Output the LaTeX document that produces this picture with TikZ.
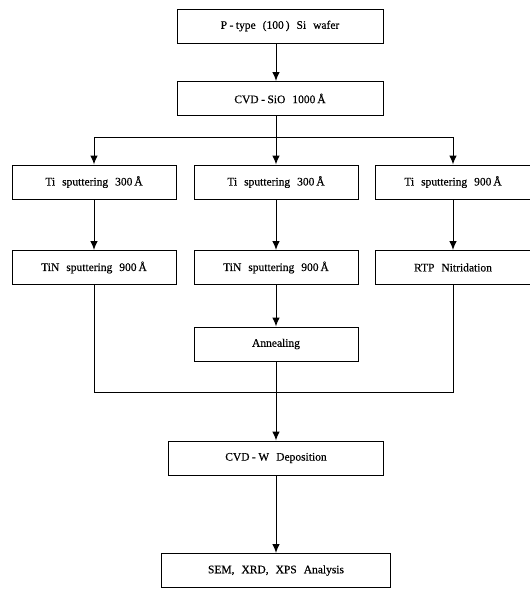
\documentclass[tikz,border=0pt]{standalone}
\usepackage{fontspec}
\setmainfont{Liberation Serif}[FakeBold=0.4]
\usepackage{tikz}
\usetikzlibrary{arrows.meta}
\usetikzlibrary{positioning}
\newcommand{\stagefont}{\fontsize{11.5}{13}\selectfont\spaceskip=7pt\relax}
\newcommand{\dash}{\kern2.5pt-\kern2.5pt}

\begin{document}
\begin{tikzpicture}[x=1pt, y=-1pt, line width=1pt,
    stage/.style={draw, minimum height=34pt, inner sep=0pt, font=\stagefont},
    arr/.style={-{Latex[length=9pt, width=7.5pt]}}]
    \useasboundingbox (0,0) rectangle (530,590);
    \node[stage, minimum width=206pt] (wafer) at (280,26) {P\dash type (100\,) Si wafer};
    \node[stage, minimum width=206pt] (sio) at (280,98.5) {CVD\dash SiO 1000\,Å};
    \node[stage, minimum width=164pt] (ti1) at (94,182) {Ti sputtering 300\,Å};
    \node[stage, minimum width=164pt] (ti2) at (276,182) {Ti sputtering 300\,Å};
    \node[stage, minimum width=156pt] (ti3) at (453,182) {Ti sputtering 900\,Å};
    \node[stage, minimum width=164pt] (tin1) at (94,267.5) {TiN sputtering 900\,Å};
    \node[stage, minimum width=164pt] (tin2) at (276,267.5) {TiN sputtering 900\,Å};
    \node[stage, minimum width=156pt] (rtp) at (453,267.5) {RTP Nitridation};
    \node[stage, minimum width=164pt] (anneal) at (276,344) {Annealing};
    \node[stage, minimum width=215pt] (cvdw) at (276,458) {CVD\dash W Deposition};
    \node[stage, minimum width=229pt] (sem) at (276,570.5) {SEM, XRD, XPS Analysis};
    \coordinate (split) at (276,137);
    \coordinate (join) at (276,392);
    \draw[arr] (wafer.south -| split) -- (sio.north -| split);
    \draw (sio.south -| split) -- (split);
    \draw[arr] (split) -| (ti1);
    \draw[arr] (split) -- (ti2);
    \draw[arr] (split) -| (ti3);
    \draw[arr] (ti1) -- (tin1);
    \draw[arr] (ti2) -- (tin2);
    \draw[arr] (ti3) -- (rtp);
    \draw[arr] (tin2) -- (anneal);
    \draw (tin1) |- (join);
    \draw (rtp) |- (join);
    \draw[arr] (anneal) -- (cvdw);
    \draw[arr] (cvdw) -- (sem);
\end{tikzpicture}
\end{document}
